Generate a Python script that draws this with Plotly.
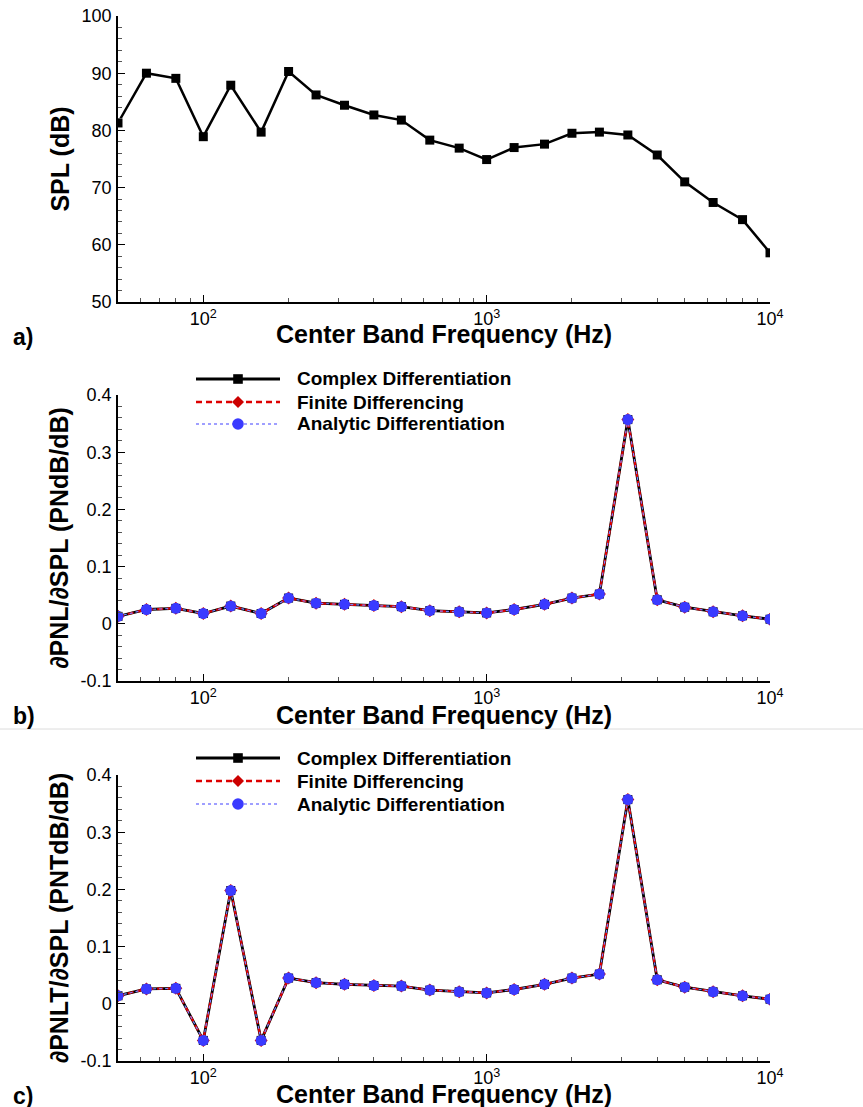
import math
import plotly.graph_objects as go

# One-third octave band centre frequencies (Hz)
freq = [50, 63, 80, 100, 125, 160, 200, 250, 315, 400, 500, 630, 800,
        1000, 1250, 1600, 2000, 2500, 3150, 4000, 5000, 6300, 8000, 10000]

# a) band sound pressure level (dB)
spl = [81.3, 90.0, 89.1, 78.9, 87.9, 79.7, 90.3, 86.2, 84.4, 82.7, 81.8, 78.3,
       76.9, 74.9, 77.0, 77.6, 79.5, 79.7, 79.2, 75.7, 71.0, 67.4, 64.4, 58.6]

# b) dPNL/dSPL (PNdB/dB) for the three differentiation methods
dpnl_complex = [0.013, 0.025, 0.027, 0.018, 0.031, 0.018, 0.045, 0.036, 0.034, 0.032,
                0.030, 0.023, 0.021, 0.019, 0.025, 0.034, 0.045, 0.052, 0.357, 0.042,
                0.029, 0.021, 0.014, 0.008]
dpnl_finite = list(dpnl_complex)
dpnl_analytic = list(dpnl_complex)

# c) dPNLT/dSPL (PNTdB/dB) for the three differentiation methods
dpnlt_complex = [0.014, 0.026, 0.027, -0.064, 0.198, -0.064, 0.045, 0.037, 0.034, 0.032,
                 0.031, 0.024, 0.021, 0.019, 0.025, 0.034, 0.045, 0.052, 0.357, 0.042,
                 0.029, 0.021, 0.014, 0.008]
dpnlt_finite = list(dpnlt_complex)
dpnlt_analytic = list(dpnlt_complex)

method_names = ["Complex Differentiation", "Finite Differencing", "Analytic Differentiation"]
spl_ticks = [50, 60, 70, 80, 90, 100]
deriv_ticks = [-0.1, 0, 0.1, 0.2, 0.3, 0.4]
deriv_ticktext = ["-0.1", "0", "0.1", "0.2", "0.3", "0.4"]
x_major = [100, 1000, 10000]
x_major_text = ["10<sup>2</sup>", "10<sup>3</sup>", "10<sup>4</sup>"]
x_minor = [m * 10 ** e for e in (1, 2, 3) for m in range(2, 10) if 50 <= m * 10 ** e < 10000]
x_title = "Center Band Frequency (Hz)"

W, H = 863, 1107
ML, MR, MT, MB = 118, 93, 16, 46
PW, PH = W - ML - MR, H - MT - MB
FONT = "Liberation Sans, Arial, Helvetica, sans-serif"


def px(x):
    return (x - ML) / PW


def py(y):
    return 1 - (y - MT) / PH


fig = go.Figure()

# Panel a
fig.add_trace(go.Scatter(x=freq, y=spl, mode="lines+markers", xaxis="x", yaxis="y",
                         line=dict(color="black", width=2.5),
                         marker=dict(symbol="square", size=9, color="black"),
                         showlegend=False))

styles = [
    dict(line=dict(color="black", width=2.8),
         marker=dict(symbol="square", size=9, color="black")),
    dict(line=dict(color="#dd0000", width=2.2, dash="6px,4px"),
         marker=dict(symbol="diamond", size=10, color="#cc0000")),
    dict(line=dict(color="#8080ff", width=1.2, dash="dot"),
         marker=dict(symbol="circle", size=11, color="#3a3aff")),
]

for ax, series in (("2", (dpnl_complex, dpnl_finite, dpnl_analytic)),
                   ("3", (dpnlt_complex, dpnlt_finite, dpnlt_analytic))):
    for name, vals, st in zip(method_names, series, styles):
        fig.add_trace(go.Scatter(x=freq, y=vals, mode="lines+markers", name=name,
                                 xaxis="x" + ax, yaxis="y" + ax, showlegend=False, **st))

tickfont = dict(family=FONT, size=18, color="black")
titlefont = dict(family=FONT, size=25, color="black", weight="bold")


def xaxis_cfg(anchor):
    return dict(type="log", range=[math.log10(50), 4], domain=[0, 1], anchor=anchor,
                automargin=False,
                showline=True, linecolor="black", linewidth=1.5, mirror=False,
                showgrid=False, zeroline=False,
                tickmode="array", tickvals=x_major, ticktext=x_major_text,
                ticks="inside", ticklen=7, tickwidth=1.2, tickcolor="black",
                tickfont=tickfont, ticklabelstandoff=0,
                minor=dict(tickmode="array", tickvals=x_minor, ticks="inside",
                           ticklen=4, tickwidth=1, tickcolor="#555555", showgrid=False))


def yaxis_cfg(anchor, dom, rng, tv, tt, minor_dt, title):
    return dict(domain=dom, range=rng, anchor=anchor, automargin=False,
                showline=True, linecolor="black", linewidth=1.5, mirror=False,
                showgrid=False, zeroline=False,
                tickmode="array", tickvals=tv, ticktext=tt,
                ticks="inside", ticklen=7, tickwidth=1.2, tickcolor="black",
                tickfont=tickfont, ticklabelstandoff=1,
                minor=dict(dtick=minor_dt, ticks="inside", ticklen=4, tickwidth=1,
                           tickcolor="#555555", showgrid=False),
                title=dict(text=title, font=titlefont, standoff=5))


dom_a = [py(302), 1]
dom_b = [py(681), py(395)]
dom_c = [0, py(775)]

fig.update_layout(
    width=W, height=H,
    margin=dict(l=ML, r=MR, t=MT, b=MB, autoexpand=False),
    paper_bgcolor="white", plot_bgcolor="white",
    font=dict(family=FONT, color="black"),
    showlegend=False,
    xaxis=xaxis_cfg("y"),
    xaxis2=xaxis_cfg("y2"),
    xaxis3=xaxis_cfg("y3"),
    yaxis=yaxis_cfg("x", dom_a, [50, 100], spl_ticks, [str(v) for v in spl_ticks], 2, "SPL (dB)"),
    yaxis2=yaxis_cfg("x2", dom_b, [-0.1, 0.4], deriv_ticks, deriv_ticktext, 0.02,
                     "∂PNL/∂SPL (PNdB/dB)"),
    yaxis3=yaxis_cfg("x3", dom_c, [-0.1, 0.4], deriv_ticks, deriv_ticktext, 0.02,
                     "∂PNLT/∂SPL (PNTdB/dB)"),
)

shapes = []
annotations = []

# Frequency-axis titles, set just under the tick labels
for ypix in (334, 715, 1094):
    annotations.append(dict(text=x_title, xref="paper", yref="paper", x=0.5, y=py(ypix),
                            xanchor="center", yanchor="middle", showarrow=False,
                            font=titlefont))

# Panel letters
for letter, ypix in (("a)", 337), ("b)", 716), ("c)", 1096)):
    annotations.append(dict(text=letter, xref="paper", yref="paper", x=px(11), y=py(ypix),
                            xanchor="left", yanchor="middle", showarrow=False,
                            font=dict(family=FONT, size=23, color="black", weight="bold")))

# Thin separator between panels b and c
shapes.append(dict(type="line", xref="paper", yref="paper", x0=px(0), x1=px(W),
                   y0=py(729), y1=py(729), line=dict(color="#dcdcdc", width=1)))

# Hand-drawn legends for panels b and c
dx, dy = 4.8 / PW, 4.8 / PH
for rows in ((379, 402, 424), (758, 781, 804)):
    for name, ypix, st in zip(method_names, rows, styles):
        y = py(ypix)
        ln = st["line"]
        shapes.append(dict(type="line", xref="paper", yref="paper", x0=px(196), x1=px(280),
                           y0=y, y1=y,
                           line=dict(color=ln["color"], width=ln["width"] + 0.3,
                                     dash=ln.get("dash", "solid"))))
        cx = px(238)
        col = st["marker"]["color"]
        sym = st["marker"]["symbol"]
        if sym == "square":
            shapes.append(dict(type="rect", xref="paper", yref="paper",
                               x0=cx - dx, x1=cx + dx, y0=y - dy, y1=y + dy,
                               fillcolor=col, line=dict(width=0)))
        elif sym == "diamond":
            d2x, d2y = dx * 1.25, dy * 1.25
            path = (f"M {cx},{y + d2y} L {cx + d2x},{y} L {cx},{y - d2y} "
                    f"L {cx - d2x},{y} Z")
            shapes.append(dict(type="path", xref="paper", yref="paper", path=path,
                               fillcolor=col, line=dict(width=0)))
        else:
            r2x, r2y = dx * 1.2, dy * 1.2
            shapes.append(dict(type="circle", xref="paper", yref="paper",
                               x0=cx - r2x, x1=cx + r2x, y0=y - r2y, y1=y + r2y,
                               fillcolor=col, line=dict(width=0)))
        annotations.append(dict(text=name, xref="paper", yref="paper", x=px(295), y=y,
                                xanchor="left", yanchor="middle", showarrow=False,
                                font=dict(family=FONT, size=19, color="black", weight="bold")))

fig.update_layout(shapes=shapes, annotations=annotations)

fig.write_html("out.html")
